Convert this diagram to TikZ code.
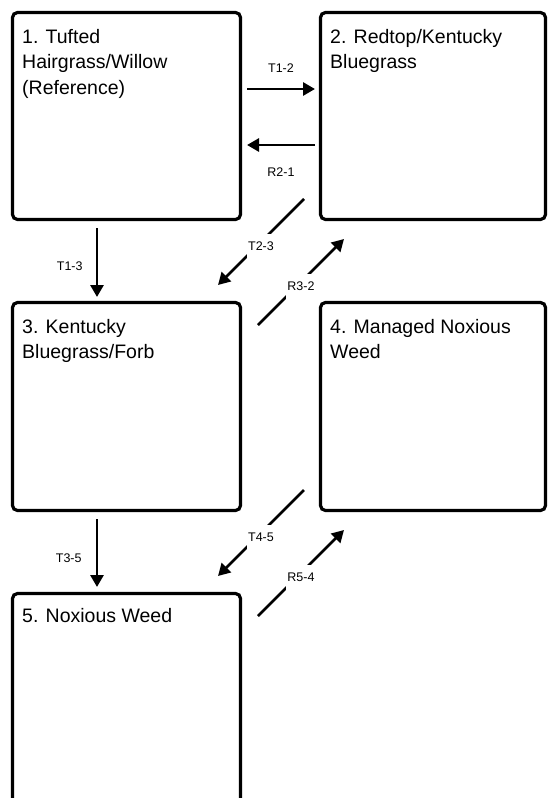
\documentclass[tikz,border=0pt]{standalone}
\usepackage{fontspec}
\setmainfont{Liberation Sans}
\usetikzlibrary{arrows.meta}

\begin{document}
\begin{tikzpicture}[x=1pt,y=1pt,
    box/.style={draw=black,line width=3.2pt,rounded corners=5pt,inner sep=0pt,outer sep=0pt},
    title/.style={anchor=base west,align=left,inner sep=0pt,font=\fontsize{19.5}{25.5}\selectfont},
    arrow/.style={-{Triangle[length=12pt,width=13pt]},line width=2.8pt},
    lbl/.style={font=\fontsize{12.5}{14}\selectfont,inner sep=0pt},
    cut/.style={lbl,fill=white,inner xsep=1pt,inner ysep=8pt,yshift=-4.5pt}
  ]
    \useasboundingbox (0,0) rectangle (549,-798);
    \clip (0,0) rectangle (549,-798);
    \foreach \n/\x/\y/\w/\h in {1/126.5/-116/228/207,2/433/-116/225/207,3/126.5/-406.5/228/208,4/433/-406.5/225/208,5/126.5/-711.75/228/236.5}
      \node[box,minimum width=\w pt,minimum height=\h pt] (b\n) at (\x,\y) {};
    % base anchor sits on the last line
    \node[title] (s1) at ([shift={(9.5,-81.5)}]b1.north west) {1. Tufted\\Hairgrass/Willow\\(Reference)};
    \node[title] (s2) at ([shift={(9.5,-56)}]b2.north west) {2. Redtop/Kentucky\\Bluegrass};
    \node[title] (s3) at ([shift={(9.5,-56)}]b3.north west) {3. Kentucky\\Bluegrass/Forb};
    \node[title] (s4) at ([shift={(9.5,-56)}]b4.north west) {4. Managed Noxious\\Weed};
    \node[title] (s5) at ([shift={(9.5,-29)}]b5.north west) {5. Noxious Weed};
    % transitions and restorations
    \draw[arrow] ([shift={(6.5,-76.5)}]b1.north east) -- node[lbl,above=14.7pt]{T1-2} ([shift={(-5.5,-76.5)}]b2.north west);
    \draw[arrow] ([shift={(-5.5,-132.5)}]b2.north west) -- node[lbl,below=21.7pt]{R2-1} ([shift={(6.5,-132.5)}]b1.north east);
    \draw[arrow] ([shift={(84.5,-8.5)}]b1.south west) -- node[lbl,left=13pt,yshift=-4pt]{T1-3} ([shift={(84.5,5.5)}]b3.north west);
    \draw[arrow] ([shift={(84.5,-8.5)}]b3.south west) -- node[lbl,left=14pt,yshift=-5pt]{T3-5} ([shift={(84.5,6.5)}]b5.north west);
    \draw[arrow] ([shift={(-16.5,20.5)}]b2.south west) -- node[cut]{T2-3} ([shift={(-22.5,17.5)}]b3.north east);
    \draw[arrow] ([shift={(17.5,-22.5)}]b3.north east) -- node[cut]{R3-2} ([shift={(23.5,-19.5)}]b2.south west);
    \draw[arrow] ([shift={(-16.5,20.5)}]b4.south west) -- node[cut]{T4-5} ([shift={(-22.5,17.5)}]b5.north east);
    \draw[arrow] ([shift={(17.5,-22.5)}]b5.north east) -- node[cut]{R5-4} ([shift={(23.5,-19.5)}]b4.south west);
  \end{tikzpicture}
\end{document}
